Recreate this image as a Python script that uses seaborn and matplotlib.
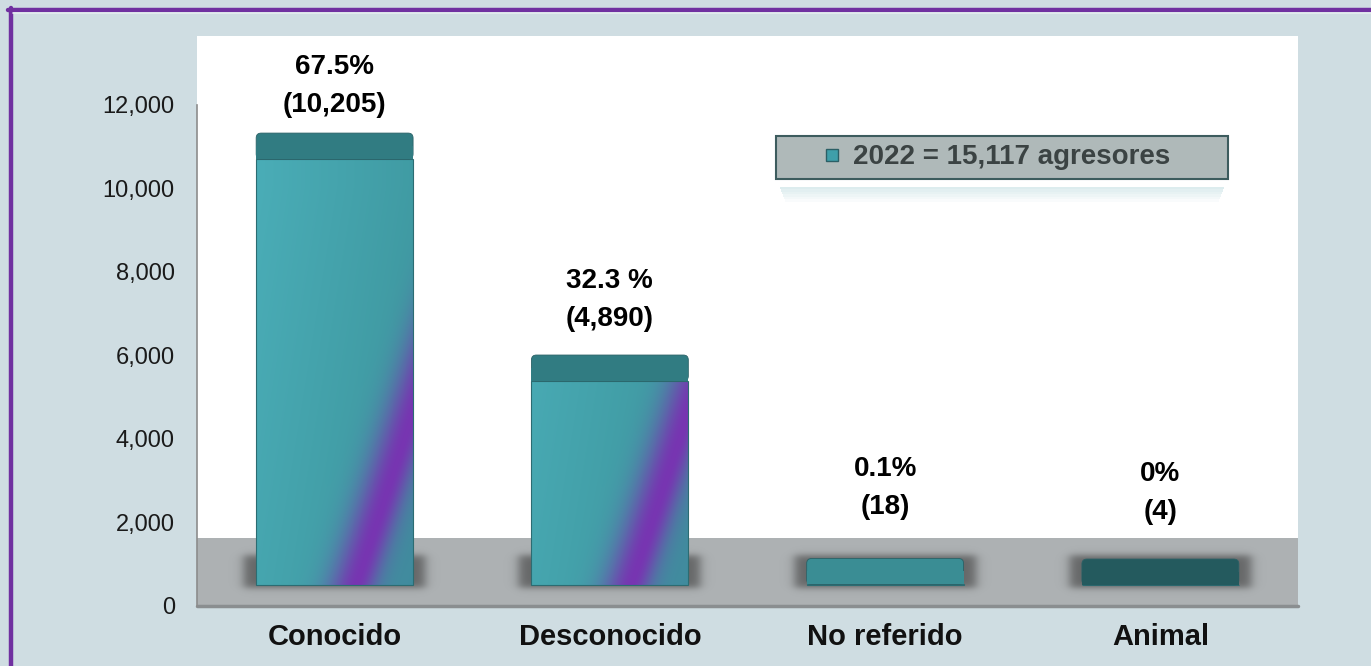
import numpy as np
import pandas as pd
import seaborn as sns
import matplotlib.pyplot as plt
from matplotlib.patches import Rectangle, FancyBboxPatch
from matplotlib.lines import Line2D

# data
categories = ["Conocido", "Desconocido", "No referido", "Animal"]
agresores = [10205, 4890, 18, 4]
porcentajes = ["67.5%", "32.3 %", "0.1%", "0%"]
y_ticks = [0, 2000, 4000, 6000, 8000, 10000, 12000]
legend_label = "2022 = 15,117 agresores"

# styles
bg = "#CFDDE2"
purple_border = "#7030A0"
teal = "#43A5AF"
top_colors = ["#317C82", "#317C82", "#3A8D94", "#245A5E"]
label_pad_px = [15, 23, 38, 34]

sns.set_theme(style="white")
plt.rcParams["font.family"] = ["Liberation Sans", "DejaVu Sans"]

df = pd.DataFrame({"Agresor": categories, "Casos": agresores})

W, H = 1371, 666
fig = plt.figure(figsize=(W / 100, H / 100), dpi=100)
fig.patch.set_facecolor(bg)
ax = fig.add_axes([197 / W, 60 / H, 1101 / W, 570 / H])
ax.set_facecolor("white")

ymax = 13650
floor_depth = 1630   # gray 3-D floor
base = 500           # bars stand on the floor
top_depth = 620      # thickness of the bar tops
px_x = 1101 / 4.0
px_y = 570 / ymax

sns.barplot(data=df, x="Agresor", y="Casos", color=teal, width=0.57,
            bottom=base, edgecolor="#2C6C72", linewidth=0.8, zorder=3, ax=ax)
ax.set_xlim(-0.5, 3.5)
ax.set_ylim(0, ymax)

# floor
ax.add_patch(Rectangle((-0.5, 0), 4, floor_depth, facecolor="#ADB1B3",
                       edgecolor="none", zorder=0.5))
ax.plot([-0.5, 3.5], [0, 0], color="#8A8E90", lw=2.5, zorder=0.6, clip_on=False)


def soft(c, lo, hi, blur):
    return 0.5 * (np.tanh((c - lo) / blur) - np.tanh((c - hi) / blur))


def face_image(w_px, h_px):
    nx, ny = max(int(w_px), 2), max(int(h_px), 2)
    u, v = np.meshgrid(np.linspace(0, w_px, nx), np.linspace(0, h_px, ny))
    light = np.array([74, 173, 183]) / 255
    dark = np.array([58, 144, 151]) / 255
    blue = np.array([70, 128, 160]) / 255
    purp = np.array([121, 50, 178]) / 255
    tone = 0.6 * (u / w_px) + 0.25 * (1 - np.clip(v / 400, 0, 1))
    rgb = light + (dark - light) * tone[..., None]
    d = u - (0.645 * w_px + 0.33 * v)
    wb = np.where(d > 0, np.clip(d / 30, 0, 1), 0) * 0.45
    rgb = rgb * (1 - wb[..., None]) + blue * wb[..., None]
    wp = np.where(d < 0, np.exp(-(d / 28) ** 2), np.exp(-(d / 20) ** 2)) * 0.97
    rgb = rgb * (1 - wp[..., None]) + purp * wp[..., None]
    return rgb


for i, bar in enumerate(ax.containers[0].patches):
    x0, w = bar.get_x(), bar.get_width()
    y0, h = bar.get_y(), bar.get_height()
    # soft shadow on the floor
    sx0, sx1 = x0 - 28 / px_x, x0 + w + 28 / px_x
    sy0, sy1 = y0 - 14 / px_y, y0 + 44 / px_y
    gx, gy = np.meshgrid(np.linspace(sx0, sx1, 120), np.linspace(sy0, sy1, 60))
    a = soft((gx - x0) * px_x, -13, w * px_x + 13, 6) * soft((gy - y0) * px_y, -3, 30, 4)
    sh = np.zeros(gx.shape + (4,))
    sh[..., :3] = 0.25
    sh[..., 3] = 0.65 * a
    ax.imshow(sh, extent=[sx0, sx1, sy0, sy1], origin="lower", aspect="auto",
              interpolation="bilinear", zorder=2)
    # front face
    ax.imshow(face_image(w * px_x, h * px_y), extent=[x0, x0 + w, y0, y0 + h],
              origin="lower", aspect="auto", interpolation="bilinear", zorder=3.05)
    bar.set_facecolor("none")
    bar.set_zorder(3.2)
    # top of the bar, slightly rounded at the back
    ax.add_patch(FancyBboxPatch((x0, y0 + h), w, top_depth,
                                boxstyle="round,pad=0,rounding_size=0.018",
                                mutation_aspect=1 / (px_y / px_x),
                                facecolor=top_colors[i], edgecolor="#2A6166",
                                linewidth=0.6, zorder=3.3))
    ax.add_patch(Rectangle((x0, y0 + h), w, top_depth / 2, facecolor=top_colors[i],
                           edgecolor="none", zorder=3.35))
    ax.annotate(f"{porcentajes[i]}\n({agresores[i]:,})",
                (x0 + w / 2, y0 + h + top_depth), xytext=(0, label_pad_px[i]),
                textcoords="offset pixels", ha="center", va="bottom",
                fontsize=20, fontweight="bold", color="black", linespacing=1.62,
                zorder=5)

ax.set_xlim(-0.5, 3.5)
ax.set_ylim(0, ymax)

# axes styling
for s in ["top", "right", "bottom"]:
    ax.spines[s].set_visible(False)
ax.spines["left"].set_color("#8C8C8C")
ax.spines["left"].set_linewidth(1.2)
ax.spines["left"].set_bounds(0, 12000)
ax.set_yticks(y_ticks)
ax.set_yticklabels([f"{t:,}" for t in y_ticks])
ax.tick_params(axis="y", length=0, pad=16, labelsize=17, labelcolor="#1A1A1A")
ax.tick_params(axis="x", length=0, pad=12, labelsize=21, labelcolor="#111111")
for lab in ax.get_xticklabels():
    lab.set_fontweight("bold")
ax.set_xlabel("")
ax.set_ylabel("")
ax.grid(False)

# legend
handle = Line2D([], [], marker="s", markersize=8.5, markerfacecolor="#3F9FAA",
                markeredgecolor="#2B5F66", linestyle="none")
leg = ax.legend([handle], [legend_label], loc="upper left", mode="expand",
                bbox_to_anchor=(776 / W, 1 - 186 / H, 452 / W, 50 / H),
                bbox_transform=fig.transFigure, borderaxespad=0,
                borderpad=0.3, handlelength=3.43, handletextpad=-0.96,
                prop={"weight": "bold", "size": 20}, labelcolor="#3B4343",
                facecolor="#AFB9B9", edgecolor="#3D5C5E", framealpha=1,
                fancybox=False)
leg.get_frame().set_linewidth(1.5)
leg.set_zorder(6)
for k in range(6):
    fig.add_artist(Rectangle(((780 + k) / W, 1 - (189 + 2.5 * k) / H), (444 - 2 * k) / W,
                             2.5 / H, transform=fig.transFigure,
                             color="#9CCBD0", alpha=0.35 * (1 - k / 6), lw=0))

# purple frame
fig.add_artist(Line2D([8 / W, 1], [1 - 10 / H, 1 - 10 / H], transform=fig.transFigure,
                      color=purple_border, lw=3.2))
fig.add_artist(Line2D([10.5 / W, 10.5 / W], [0, 1 - 8 / H], transform=fig.transFigure,
                      color=purple_border, lw=3.2))
fig.add_artist(Line2D([13 / W, 1], [1 - 13 / H, 1 - 13 / H], transform=fig.transFigure,
                      color="#E4ECEF", lw=1.2))

fig.savefig("out.png", dpi=100, facecolor=fig.get_facecolor())
